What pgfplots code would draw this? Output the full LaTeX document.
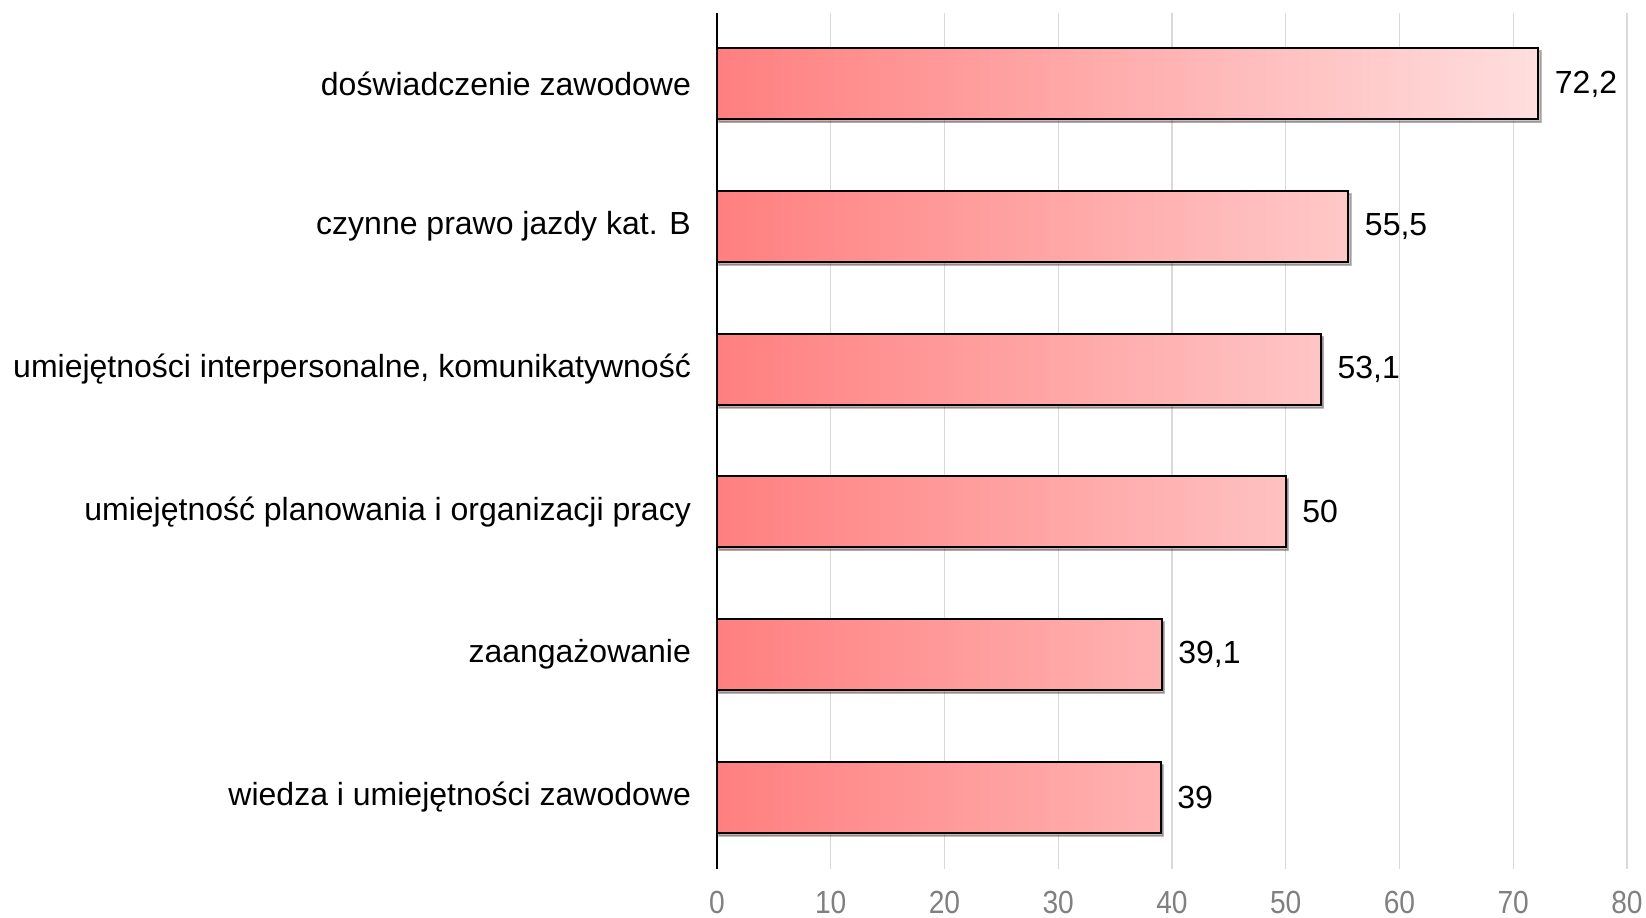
\documentclass[border=0pt]{standalone}
\usepackage{pgfplots}
\pgfplotsset{compat=1.18}
\usepackage{fontspec}
\setmainfont{Liberation Sans}
\newfontfamily\narrowfont[FakeStretch=0.88]{Liberation Sans}
\usetikzlibrary{shadows}
\definecolor{barL}{RGB}{255,127,127}
\definecolor{barR}{RGB}{255,222,222}
\definecolor{gridc}{RGB}{217,217,217}
\definecolor{tickc}{RGB}{128,128,128}
\begin{document}
\begin{tikzpicture}
\begin{axis}[
  scale only axis,
  width=455pt, height=428pt,
  xmin=0, xmax=80,
  ymin=-0.5, ymax=5.5,
  xtick={0,10,...,80},
  ytick={0,1,2,3,4,5},
  yticklabels={wiedza i umiejętności zawodowe, zaangażowanie, umiejętność planowania i organizacji pracy, {umiejętności interpersonalne, komunikatywność}, czynne prawo jazdy kat. B, doświadczenie zawodowe},
  xmajorgrids, grid style={gridc, line width=0.7pt},
  major tick length=0pt,
  separate axis lines,
  axis x line*=bottom,
  x axis line style={draw=none},
  axis y line*=left,
  y axis line style={black, line width=1pt, -},
  tick label style={font=\fontsize{16}{19}\selectfont},
  x tick label style={font=\narrowfont\fontsize{16}{19}\selectfont, text=tickc, yshift=-7.5pt},
  y tick label style={xshift=-9.5pt},
  /pgf/number format/assume math mode=true,
  /pgf/number format/use comma,
  xbar,
  bar width=35.5pt,
  nodes near coords,
  nodes near coords style={font=\fontsize{16}{19}\selectfont, black, xshift=4.5pt},
]
\addplot[draw=black, line width=1pt, left color=barL, right color=barR,
  drop shadow={shadow xshift=1.2pt, shadow yshift=-1.5pt, opacity=0.25, fill=black}]
  coordinates {(39,0) (39.1,1) (50,2) (53.1,3) (55.5,4) (72.2,5)};
\end{axis}
\pgfresetboundingbox
\path (-358.5pt,-24.5pt) rectangle (464.5pt,434.3pt);
\end{tikzpicture}
\end{document}
